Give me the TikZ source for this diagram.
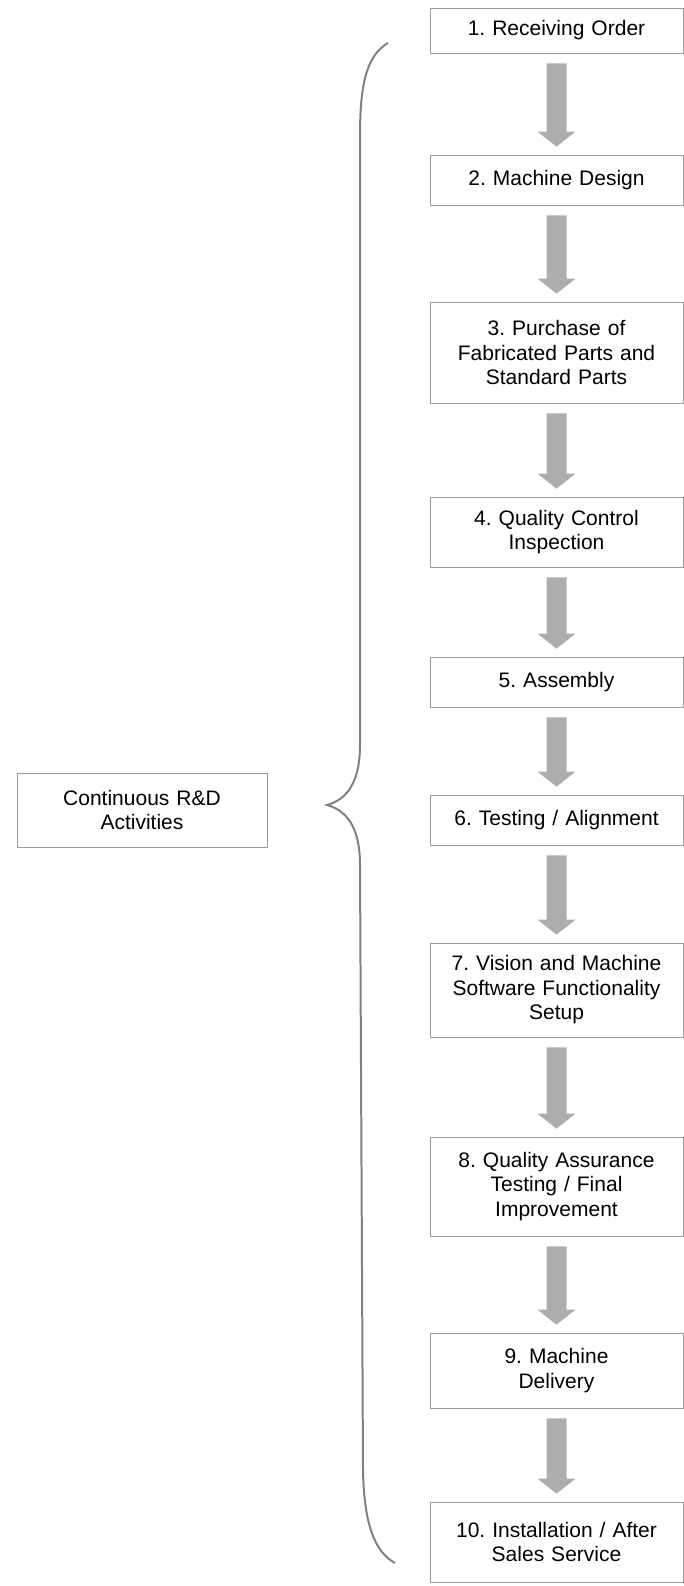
\documentclass[tikz,border=0pt]{standalone}
\usepackage{fontspec}
\setmainfont{Liberation Sans}
\usepackage{tikz}
\usetikzlibrary{calc}
\frenchspacing
\tikzset{
	stepbox/.style={draw, line width=0.25mm, color=black!40, text=black, minimum width=253pt, text width=237pt, inner xsep=8pt, inner ysep=0pt, align=center, font=\fontsize{21}{24.5}\selectfont},
}
\def\blockarrow(#1)(#2){\fill[color=black!32] ($(#1.south)+(-10,-10)$) -- ($(#2.north)+(-10,23)$) -- ($(#2.north)+(-19,23)$) -- ($(#2.north)+(0,8)$) -- ($(#2.north)+(19,23)$) -- ($(#2.north)+(10,23)$) -- ($(#1.south)+(10,-10)$) -- cycle;}

\begin{document}
\begin{tikzpicture}[x=1pt, y=1pt]
			%%%%% START %%%%%
			\useasboundingbox (0, 0) rectangle (684, -1586);
			
			\node[stepbox, minimum height=45pt] (recv) at (556.5, -30.5) {1. Receiving Order};
			\node[stepbox, minimum height=50pt] (design) at (556.5, -180) {2. Machine Design};
			\node[stepbox, minimum height=101pt] (purchase) at (556.5, -352.5) {3. Purchase of\\Fabricated Parts and\\Standard Parts};
			\node[stepbox, minimum height=70pt] (qc) at (556.5, -532) {4. Quality Control\\Inspection};
			\node[stepbox, minimum height=50pt] (assembly) at (556.5, -682) {5. Assembly};
			\node[stepbox, minimum height=50pt] (testing) at (556.5, -820) {6. Testing / Alignment};
			\node[stepbox, minimum height=94pt] (vision) at (556.5, -990) {7. Vision and Machine\\Software Functionality\\Setup};
			\node[stepbox, minimum height=99pt] (qa) at (556.5, -1186.5) {8. Quality Assurance\\Testing / Final\\Improvement};
			\node[stepbox, minimum height=75pt] (delivery) at (556.5, -1370.5) {9. Machine\\Delivery};
			\node[stepbox, minimum height=80pt] (install) at (556.5, -1542) {10. Installation / After\\Sales Service};
			
			\blockarrow(recv)(design)
			\blockarrow(design)(purchase)
			\blockarrow(purchase)(qc)
			\blockarrow(qc)(assembly)
			\blockarrow(assembly)(testing)
			\blockarrow(testing)(vision)
			\blockarrow(vision)(qa)
			\blockarrow(qa)(delivery)
			\blockarrow(delivery)(install)
			
			\node[stepbox, minimum height=74pt, minimum width=250pt, text width=234pt] (rnd) at (142, -810) {Continuous R\&D\\Activities};
			
			% brace round the steps
			\coordinate (rndtip) at (327, -805);
			\draw[line width=0.7mm, color=black!50] (388, -43) .. controls (368, -55) and (360, -80) .. (360, -135) -- (360, -745) .. controls (360, -785) and (345, -800) .. (rndtip) .. controls (345, -810) and (360, -825) .. (360, -865) -- (363, -1470) .. controls (364, -1525) and (375, -1552) .. (395, -1563);
			
			%%%%% END %%%%%
\end{tikzpicture}
\end{document}
